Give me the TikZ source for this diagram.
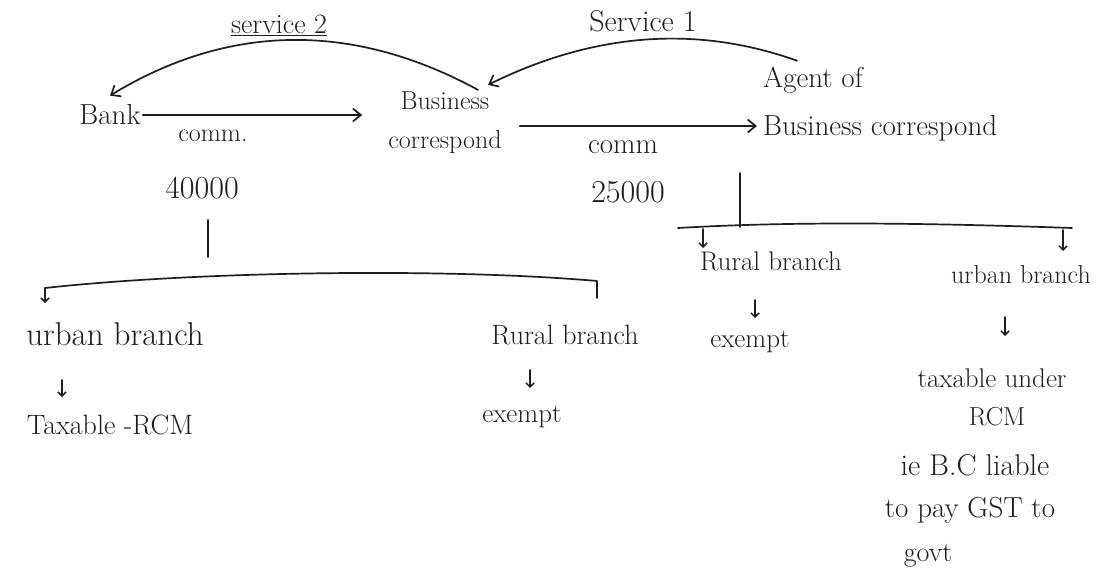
\documentclass[tikz,border=0pt]{standalone}
\usepackage{fontspec}
\setmainfont{Latin Modern Roman}
\usetikzlibrary{arrows.meta}
\definecolor{inkc}{HTML}{1E1E1E}
\newcommand\hfs[1]{\fontsize{#1}{#1}\selectfont}
\begin{document}
\begin{tikzpicture}[x=1pt,y=-1pt,
  ink/.style={draw=inkc, line width=1.7pt, line cap=round, line join=round},
  arr/.style={ink, -{Straight Barb[length=8pt,width=13pt,line width=1.7pt]}},
  dn/.style={ink, -{Straight Barb[length=4pt,width=8pt,line width=1.5pt]}},
  txt/.style={text=inkc, inner sep=0pt}]
\fill[white] (0,0) rectangle (1105,584);
\useasboundingbox (0,0) rectangle (1105,584);

% top row
\node[txt,font=\hfs{28}] (s2) at (279,25) {\underline{service 2}};
\node[txt,font=\hfs{30}] (s1) at (643,21) {Service 1};
\node[txt,font=\hfs{29}] (bank) at (110,115) {Bank};
\node[txt,font=\hfs{26}] (c1) at (213,136) {comm.};
\node[txt,font=\fontsize{26}{39}\selectfont,align=center] (bcorr) at (445,123) {Business\\correspond};
\node[txt,font=\hfs{29}] (c2) at (623,147) {comm};
\node[txt,font=\fontsize{29}{48}\selectfont,align=left,anchor=west] (agent) at (763,104) {Agent of\\Business correspond};
\node[txt,font=\hfs{32}] (n1) at (202,188) {40000};
\node[txt,font=\hfs{32}] (n2) at (628,192) {25000};

% arcs
\draw[arr] ([xshift=33pt,yshift=2pt]bcorr.north) .. controls (355,23) and (231,22) .. ([yshift=9pt]bank.north);
\draw[arr] ([xshift=34pt,yshift=6pt]agent.north west) .. controls (700,26) and (597,31) .. ([xshift=43pt,yshift=7pt]bcorr.north);

% comm arrows
\draw[arr, shorten <=2pt, shorten >=26pt] (bank.east) -- (bank.east -| bcorr.west);
\draw[arr, shorten <=18pt, shorten >=6pt] ([yshift=-3pt]bcorr.east) -- ([yshift=-3pt]bcorr.east -| agent.west);

% left tree
\coordinate (ls1) at (208,220);
\coordinate (ls2) at (208,257);
\coordinate (lbL) at (45,288);
\coordinate (lbR) at (597,281);
\coordinate (lbT) at (597,298);
\coordinate (la1) at (45,303);
\draw[ink] (ls1) -- (ls2);
\draw[ink] (lbL) .. controls (200,271) and (450,268) .. (lbR) -- (lbT);
\draw[dn] (lbL) -- (la1);

\node[txt,font=\hfs{33}] (urbL) at (115,334) {urban branch};
\node[txt,font=\hfs{28}] (taxL) at (110,425) {Taxable -RCM};
\node[txt,font=\hfs{28}] (rurL) at (565,335) {Rural branch};
\node[txt,font=\hfs{27}] (exL) at (522,417) {exempt};
\coordinate (a1s) at (62,380);
\coordinate (a1e) at (62,397);
\coordinate (a2s) at (530,370);
\coordinate (a2e) at (530,388);
\draw[dn] (a1s) -- (a1e);
\draw[dn] (a2s) -- (a2e);

% right tree
\coordinate (rs1) at (740,173);
\coordinate (rs2) at (740,227);
\coordinate (rbL) at (678,228);
\coordinate (rbR) at (1072,228);
\coordinate (ra1s) at (703,229);
\coordinate (ra1e) at (703,248);
\coordinate (ra2s) at (1063,230);
\coordinate (ra2e) at (1063,251);
\draw[ink] (rs1) -- (rs2);
\draw[ink] (rbL) .. controls (780,222) and (900,222) .. (rbR);
\draw[dn] (ra1s) -- (ra1e);
\draw[dn] (ra2s) -- (ra2e);

\node[txt,font=\hfs{27}] (rurR) at (771,261) {Rural branch};
\node[txt,font=\hfs{26}] (urbR) at (1021,275) {urban branch};
\node[txt,font=\hfs{27}] (exR) at (750,342) {exempt};
\node[txt,font=\hfs{27}] (taxR) at (992,378) {taxable under};
\node[txt,font=\hfs{26}] (rcm) at (997,417) {RCM};
\node[txt,font=\hfs{30}] (ie) at (975,465) {ie B.C liable};
\node[txt,font=\hfs{29}] (pay) at (970,510) {to pay GST to};
\node[txt,font=\hfs{28}] (govt) at (928,556) {govt};
\coordinate (a3s) at (755,300);
\coordinate (a3e) at (755,318);
\coordinate (a4s) at (1005,317);
\coordinate (a4e) at (1005,336);
\draw[dn] (a3s) -- (a3e);
\draw[dn] (a4s) -- (a4e);
\end{tikzpicture}
\end{document}
